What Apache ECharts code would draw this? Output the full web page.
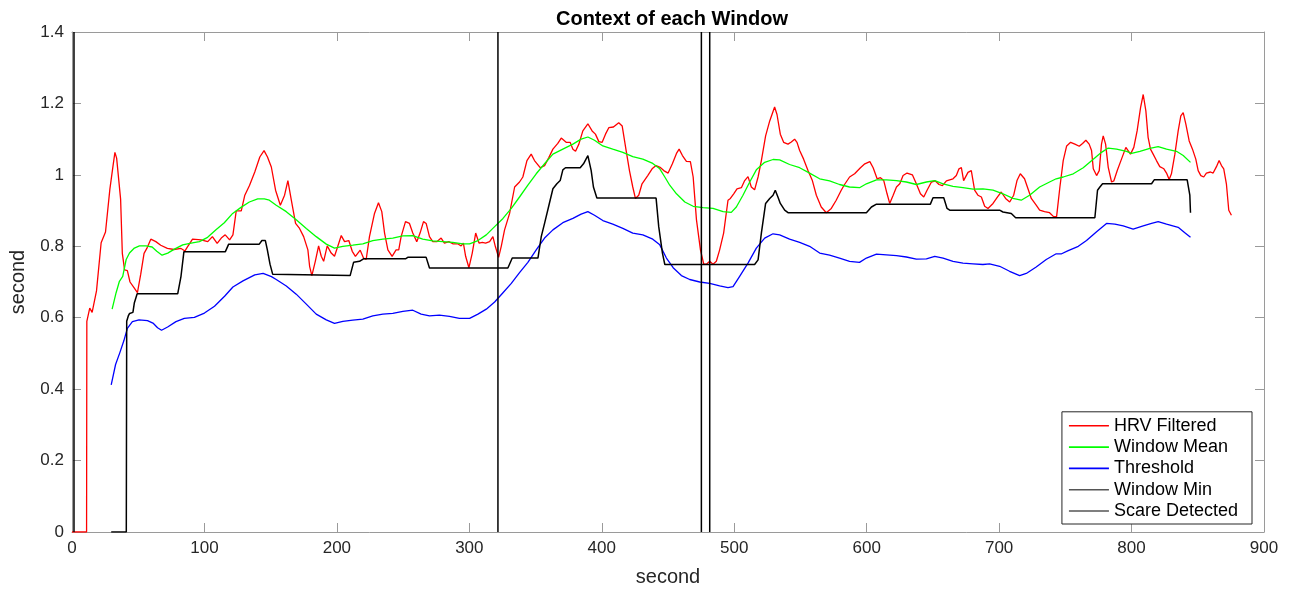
<!DOCTYPE html>
<html>
<head>
<meta charset="utf-8">
<script src="https://cdn.jsdelivr.net/npm/echarts@6/dist/echarts.min.js"></script>
<style>
html,body{margin:0;padding:0;background:#fff;}
#chart{width:1291px;height:592px;}
</style>
</head>
<body>
<div id="chart"></div>
<script>
// ---- data: [second, value] ----
const hrvFiltered = [[0,0],[11,0],[11.2,0.59],[13.4,0.627],[15.2,0.615],[18.5,0.675],[22,0.81],[25.3,0.84],[28.6,0.96],[30.9,1.023],[32.4,1.063],[33.7,1.047],[36.7,0.932],[38,0.78],[39.7,0.734],[41.8,0.732],[43.8,0.70],[46.8,0.684],[49.4,0.67],[51.9,0.722],[54.4,0.78],[56.5,0.794],[59.5,0.82],[63.3,0.813],[67,0.803],[72,0.794],[77,0.791],[82.3,0.794],[85.3,0.787],[87.3,0.799],[91,0.82],[97.5,0.818],[102.5,0.813],[106,0.827],[109.6,0.808],[112.7,0.823],[115.7,0.832],[119,0.818],[121.5,0.832],[124,0.899],[127.8,0.899],[130.4,0.942],[134,0.97],[138,1.008],[141.8,1.05],[145,1.068],[147.6,1.05],[150.5,1.022],[153.7,0.957],[157.3,0.915],[160.5,0.943],[163,0.984],[165.6,0.929],[168.8,0.864],[171.8,0.85],[174.9,0.827],[178.1,0.79],[179.4,0.744],[181.1,0.718],[183.7,0.758],[186.2,0.801],[188.2,0.772],[190,0.758],[192.7,0.801],[195.7,0.781],[198.2,0.772],[200.7,0.8],[203.3,0.83],[205.8,0.813],[209,0.816],[211.6,0.786],[214,0.772],[217.6,0.789],[220.1,0.767],[222.1,0.763],[224.6,0.827],[228.4,0.892],[231.4,0.922],[233.9,0.897],[236,0.837],[238.5,0.79],[241.7,0.772],[244.7,0.79],[246.7,0.79],[248.5,0.827],[251.8,0.869],[254.8,0.864],[257.3,0.837],[260.3,0.813],[262.8,0.837],[265.4,0.869],[267.4,0.864],[269.9,0.827],[272.4,0.813],[275.4,0.813],[278.7,0.823],[281.2,0.809],[284.5,0.813],[287.5,0.807],[291.2,0.807],[293.8,0.801],[295.5,0.809],[297.2,0.772],[299.7,0.74],[302.2,0.781],[304.8,0.837],[307.3,0.809],[309.8,0.811],[312.3,0.809],[315.3,0.813],[317.8,0.827],[319.6,0.8],[322.1,0.769],[324.1,0.8],[326.6,0.846],[330.4,0.892],[334.2,0.966],[337.9,0.98],[340.4,0.994],[343.5,1.04],[346.7,1.058],[349.2,1.04],[353.5,1.02],[356.8,1.026],[360.1,1.049],[363.1,1.072],[366.8,1.088],[369.4,1.103],[373.1,1.091],[376.1,1.091],[378.2,1.072],[380.2,1.066],[382.7,1.086],[385.7,1.123],[389.5,1.143],[392.7,1.123],[395.2,1.114],[397.8,1.093],[400.3,1.091],[402.8,1.114],[405.3,1.132],[408.8,1.134],[412.8,1.146],[415.4,1.137],[418.4,1.068],[420.9,1.012],[423.4,0.966],[425.4,0.934],[427.9,0.943],[430.4,0.975],[434.7,0.998],[438,1.017],[441,1.026],[444,1.021],[446.8,1.012],[450.1,1.005],[453.3,1.031],[456.4,1.06],[458.4,1.072],[460.9,1.054],[463.9,1.038],[466.9,1.037],[469,0.994],[471.5,0.874],[474.5,0.79],[477,0.75],[479,0.75],[481.5,0.758],[484,0.75],[486.5,0.758],[489,0.79],[492,0.837],[495.3,0.929],[497.1,0.934],[499.6,0.947],[502.1,0.961],[505.4,0.964],[507.9,0.984],[510.4,0.995],[512.9,0.966],[515.4,0.958],[518,0.994],[520.5,1.04],[523.7,1.109],[526.8,1.151],[530.5,1.19],[532.3,1.169],[534.8,1.114],[537.3,1.091],[540.6,1.086],[543.1,1.092],[545.6,1.1],[547.4,1.091],[549.4,1.068],[552.4,1.044],[555.7,1.012],[559,0.984],[562,0.943],[565.7,0.91],[569.5,0.894],[573.3,0.906],[577,0.929],[580.8,0.957],[583.3,0.973],[587.1,0.994],[590.9,1.003],[595.3,1.02],[598.6,1.031],[602.4,1.037],[604.9,1.02],[607.9,0.989],[610.4,0.992],[612.9,0.984],[615.4,0.947],[617.4,0.92],[620,0.943],[622.5,0.966],[625,0.975],[627.5,0.998],[630.5,1.005],[634.5,1],[637.5,0.975],[640.6,0.947],[643.1,0.938],[645.6,0.957],[648.9,0.98],[651.9,0.983],[654.6,0.973],[657.2,0.97],[660.2,0.983],[665.2,0.989],[667.7,0.998],[669.7,1.017],[671.5,1.02],[673.2,0.984],[676.5,1.007],[679,1.012],[681.5,0.957],[684,0.943],[686.6,0.938],[689.1,0.912],[691.6,0.906],[695.4,0.92],[699.1,0.94],[701.6,0.952],[704.9,0.934],[708,0.924],[711,0.943],[713.5,0.984],[716,1.003],[719.2,0.989],[721.8,0.961],[724.3,0.934],[728,0.915],[730.6,0.901],[734.3,0.897],[738.1,0.894],[741.1,0.883],[743.4,0.883],[745.9,0.966],[748.4,1.04],[751,1.081],[754,1.091],[757.2,1.086],[760.5,1.08],[763,1.088],[765.5,1.097],[768,1.086],[769.8,1.068],[771.1,1.017],[773.6,0.998],[775.6,1.012],[777.3,1.086],[778.6,1.109],[780.4,1.086],[782.4,1.021],[784.9,0.98],[786.6,0.983],[789.2,1.012],[792.4,1.044],[795.7,1.077],[796.7,1.072],[799.2,1.058],[801.7,1.077],[804.2,1.123],[806.8,1.188],[808.8,1.225],[810.8,1.179],[812.5,1.105],[814.3,1.072],[816.3,1.058],[818.8,1.04],[821.3,1.023],[824.4,1.017],[826.4,1.005],[828.4,0.987],[830.1,1.003],[832.7,1.058],[835.2,1.123],[837.2,1.165],[839,1.174],[841,1.142],[843.5,1.095],[846,1.072],[848.5,1.044],[850.3,1.012],[852.3,0.998],[854.5,0.994],[856.5,1.005],[859.6,1.008],[861.6,1.005],[864.1,1.023],[866.1,1.04],[867.9,1.026],[869.6,1.017],[871.6,0.975],[873.4,0.901],[875.4,0.887]];

const windowMean = [[30.3,0.624],[33.3,0.67],[35.8,0.702],[38.3,0.716],[40.9,0.763],[43.4,0.781],[47.1,0.795],[50.9,0.801],[55.9,0.801],[60.5,0.798],[64,0.786],[68,0.775],[72.3,0.781],[77.3,0.792],[83.6,0.804],[89.9,0.809],[96.2,0.813],[102.4,0.825],[108.7,0.846],[115,0.866],[121.3,0.892],[127.6,0.909],[133.9,0.924],[140.2,0.933],[145.2,0.933],[149,0.929],[154.2,0.915],[161.8,0.897],[169.3,0.874],[176.9,0.85],[184.4,0.827],[192,0.806],[198.2,0.795],[204.5,0.8],[212,0.803],[219.6,0.807],[227.1,0.816],[234.7,0.82],[242.2,0.823],[249.8,0.829],[257.3,0.83],[264.8,0.82],[272.4,0.815],[279.9,0.813],[287.5,0.811],[295,0.807],[300.2,0.807],[306.5,0.816],[312.8,0.832],[319.1,0.855],[325.4,0.878],[331.7,0.906],[337.9,0.938],[344.2,0.971],[350.5,1.003],[356.8,1.031],[363.1,1.058],[370.6,1.072],[378.2,1.086],[384.4,1.1],[389.5,1.106],[394.5,1.097],[400.8,1.081],[408.3,1.072],[415.9,1.063],[423.4,1.051],[431,1.044],[438.5,1.032],[443.8,1.017],[447.6,0.994],[451.3,0.971],[456.4,0.947],[462.7,0.924],[469,0.912],[476.5,0.908],[484,0.906],[491.6,0.897],[497.8,0.895],[501.6,0.91],[506.6,0.943],[511.7,0.98],[516.7,1.014],[523,1.035],[529.3,1.043],[534.3,1.042],[541.8,1.029],[549.4,1.02],[556.9,1.005],[564.5,0.989],[572,0.983],[579.5,0.973],[587.1,0.966],[594.6,0.964],[599.8,0.975],[607.4,0.986],[614.9,0.986],[622.5,0.984],[630,0.98],[637.5,0.973],[645.1,0.98],[651.4,0.984],[657.7,0.975],[665.2,0.968],[672.7,0.964],[680.3,0.96],[687.8,0.961],[695.4,0.957],[702.9,0.947],[710.4,0.934],[716.7,0.929],[723,0.943],[730.6,0.966],[738.1,0.98],[743.1,0.989],[748.4,0.994],[756,1.003],[763.5,1.02],[771.1,1.044],[777.3,1.063],[782.4,1.075],[788.7,1.072],[796.2,1.066],[800,1.06],[806.3,1.066],[813.8,1.074],[820.1,1.079],[826.4,1.072],[833.9,1.066],[839,1.054],[844.5,1.035]];

const threshold = [[29.6,0.412],[32.9,0.469],[36.2,0.503],[39.2,0.536],[41.8,0.57],[45.6,0.589],[50.6,0.594],[57,0.592],[61.5,0.584],[64.6,0.572],[67.6,0.565],[72.2,0.574],[78.5,0.589],[84.8,0.598],[92.4,0.601],[100,0.613],[107.6,0.632],[115.2,0.66],[121.5,0.686],[129.1,0.703],[138,0.72],[144.3,0.724],[150.6,0.715],[154.2,0.707],[161.8,0.689],[169.3,0.666],[176.9,0.638],[184.4,0.61],[192,0.594],[198.2,0.584],[204.5,0.59],[212,0.593],[219.6,0.596],[227.1,0.605],[234.7,0.61],[242.2,0.612],[249.8,0.618],[257.3,0.621],[263.6,0.61],[269.9,0.605],[277.4,0.607],[285,0.604],[292.5,0.598],[300.2,0.598],[306.5,0.61],[312.8,0.624],[319.1,0.644],[325.4,0.67],[331.7,0.696],[337.9,0.726],[344.2,0.755],[350.5,0.79],[356.8,0.823],[363.1,0.846],[370.6,0.866],[378.2,0.878],[384.4,0.89],[389.5,0.897],[394.5,0.887],[400.8,0.872],[408.3,0.862],[415.9,0.85],[423.4,0.837],[431,0.832],[438.5,0.82],[443.8,0.804],[448.8,0.767],[453.9,0.74],[460.1,0.718],[466.4,0.707],[474,0.7],[481.5,0.696],[489,0.689],[495.3,0.684],[499.1,0.687],[504.1,0.716],[510.4,0.753],[516.7,0.795],[523,0.823],[529.3,0.835],[534.3,0.832],[541.8,0.82],[549.4,0.811],[556.9,0.8],[564.5,0.781],[572,0.775],[579.5,0.767],[587.1,0.758],[594.6,0.755],[599.8,0.767],[607.4,0.778],[614.9,0.776],[622.5,0.774],[630,0.77],[637.5,0.764],[645.1,0.765],[651.4,0.772],[657.7,0.767],[665.2,0.758],[672.7,0.753],[680.3,0.751],[687.8,0.749],[692.8,0.751],[700.4,0.744],[707.9,0.73],[715.5,0.718],[720.5,0.724],[728,0.742],[735.6,0.763],[743.1,0.779],[747.2,0.779],[752.2,0.788],[759.8,0.8],[766,0.816],[773.6,0.841],[781.1,0.864],[787.4,0.862],[793.7,0.857],[801.2,0.848],[808.8,0.857],[815.1,0.864],[820.1,0.869],[826.4,0.862],[835.2,0.853],[840.2,0.838],[844.5,0.825]];

const windowMin = [[29.6,0],[41,0],[41.3,0.59],[42.5,0.605],[43.5,0.612],[46,0.615],[47.1,0.642],[49.2,0.667],[79.8,0.667],[82.3,0.716],[84.5,0.785],[115.8,0.785],[118.3,0.806],[141.4,0.806],[143.4,0.816],[146,0.816],[147.5,0.79],[149.5,0.75],[151.5,0.722],[152.5,0.718],[210,0.718],[212.6,0.755],[217.1,0.758],[220.1,0.765],[251.8,0.765],[253.5,0.769],[267.4,0.769],[269.9,0.739],[329.1,0.739],[332.4,0.767],[351.8,0.767],[354.3,0.827],[356.8,0.864],[360.1,0.915],[363.1,0.961],[366.1,0.975],[368.6,0.984],[370.6,1.014],[372.6,1.02],[383.7,1.02],[386.2,1.031],[389.5,1.054],[392,1.012],[393.7,0.966],[396.3,0.935],[441,0.935],[443,0.855],[445.8,0.781],[447.6,0.749],[515.4,0.749],[518,0.762],[520.5,0.837],[523.7,0.92],[526.8,0.934],[529.3,0.943],[531,0.957],[533,0.938],[534.8,0.92],[538.1,0.901],[540.6,0.894],[599.8,0.894],[603.6,0.91],[607.4,0.918],[648.1,0.918],[650.1,0.936],[658.2,0.936],[660.7,0.906],[662.7,0.901],[700.4,0.901],[702.9,0.896],[709.2,0.892],[712.5,0.88],[772.3,0.88],[774.3,0.957],[776.1,0.966],[778.1,0.975],[815.1,0.975],[817.1,0.986],[842,0.986],[844,0.943],[844.5,0.894]];

const scareTimes = [1.5, 321.6, 475.2, 481.5];
const scareLevels = [0, 1.4];

const xTicks = {min: 0, max: 900, interval: 100};
const yTicks = {min: 0, max: 1.4, interval: 0.2};

// ---- chart ----
const FONT = 'Liberation Sans';
const AXIS_COLOR = '#9a9a9a';
const TEXT_COLOR = '#262626';

const chart = echarts.init(document.getElementById('chart'), null, {renderer: 'canvas'});

function lineSeries(name, data, color, width) {
  return {
    name: name, type: 'line', data: data, symbol: 'none', showSymbol: false, smooth: false,
    xAxisIndex: 0, yAxisIndex: 0,
    lineStyle: {color: color, width: width}, itemStyle: {color: color},
    animation: false, silent: true
  };
}

const series = [
  lineSeries('HRV Filtered', hrvFiltered, '#ff0000', 1.3),
  lineSeries('Window Mean', windowMean, '#00ff00', 1.3),
  lineSeries('Threshold', threshold, '#0000ff', 1.3),
  lineSeries('Window Min', windowMin, '#000000', 1.5)
];
scareTimes.forEach(function (t) {
  series.push(lineSeries('Scare Detected', scareLevels.map(function (v) { return [t, v]; }), '#000000', 1.5));
});

const baseX = {
  type: 'value', min: xTicks.min, max: xTicks.max, interval: xTicks.interval,
  axisLine: {show: true, onZero: false, lineStyle: {color: AXIS_COLOR, width: 1}},
  axisTick: {show: true, inside: true, length: 9, lineStyle: {color: AXIS_COLOR}},
  splitLine: {show: false}
};
const baseY = {
  type: 'value', min: yTicks.min, max: yTicks.max, interval: yTicks.interval,
  axisLine: {show: true, onZero: false, lineStyle: {color: AXIS_COLOR, width: 1}},
  axisTick: {show: true, inside: true, length: 9, lineStyle: {color: AXIS_COLOR}},
  splitLine: {show: false}
};

const legendColors = {'HRV Filtered': '#ff0000', 'Window Mean': '#00ff00', 'Threshold': '#0000ff', 'Window Min': '#555555', 'Scare Detected': '#555555'};

chart.setOption({
  animation: false,
  backgroundColor: '#ffffff',
  title: {
    text: 'Context of each Window', left: 667, top: 4, textAlign: 'center',
    textStyle: {fontFamily: FONT, fontSize: 20, fontWeight: 'bold', color: '#000'}
  },
  grid: {left: 70.5, right: 27, top: 32, bottom: 56, containLabel: false},
  xAxis: [
    Object.assign({}, baseX, {
      position: 'bottom', name: 'second', nameLocation: 'middle', nameGap: 35,
      nameTextStyle: {fontFamily: FONT, fontSize: 20, color: TEXT_COLOR},
      axisLabel: {show: true, fontFamily: FONT, fontSize: 17, color: TEXT_COLOR, margin: 8}
    }),
    Object.assign({}, baseX, {position: 'top', axisLabel: {show: false}, name: ''})
  ],
  yAxis: [
    Object.assign({}, baseY, {
      position: 'left', name: 'second', nameLocation: 'middle', nameGap: 44,
      nameTextStyle: {fontFamily: FONT, fontSize: 20, color: TEXT_COLOR},
      axisLabel: {show: true, fontFamily: FONT, fontSize: 17, color: TEXT_COLOR, margin: 8}
    }),
    Object.assign({}, baseY, {position: 'right', axisLabel: {show: false}, name: ''})
  ],
  legend: {
    show: true, orient: 'vertical', right: 39, bottom: 68,
    data: ['HRV Filtered', 'Window Mean', 'Threshold', 'Window Min', 'Scare Detected'].map(function (n) {
      return {name: n, icon: 'rect', itemStyle: {color: legendColors[n]}};
    }),
    itemWidth: 40, itemHeight: 1.6, itemGap: 3.3,
    padding: [5, 14, 4, 7],
    backgroundColor: '#ffffff', borderColor: '#262626', borderWidth: 1,
    textStyle: {fontFamily: FONT, fontSize: 18, color: '#000'},
    selectedMode: false
  },
  series: series
});
</script>
</body>
</html>
